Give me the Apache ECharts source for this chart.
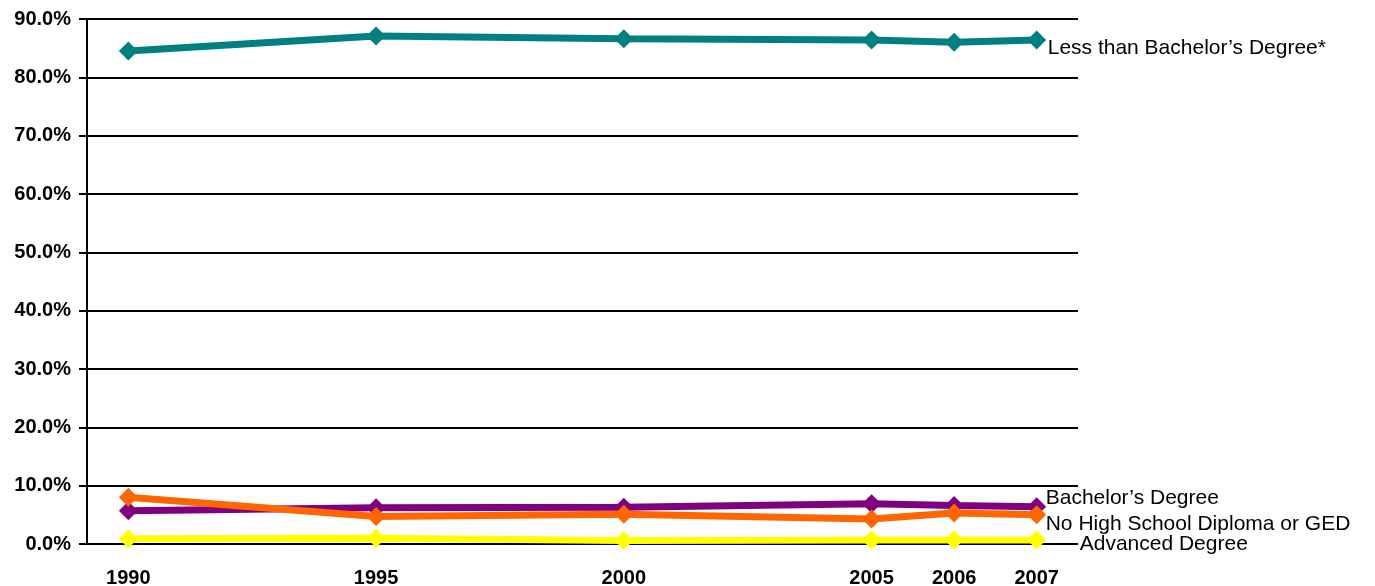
<!DOCTYPE html>
<html><head><meta charset="utf-8">
<script src="https://cdn.jsdelivr.net/npm/echarts@6/dist/echarts.min.js"></script>
<style>html,body{margin:0;padding:0;background:#fff}#c{width:1375px;height:586px}</style>
</head><body><div id="c"></div>
<script>
// Category slots (blank slots keep the original uneven year spacing)
const categories = ['1990','','','1995','','','2000','','','2005','2006','2007'];
const lessThanBachelor = [84.5,null,null,87.1,null,null,86.6,null,null,86.4,86.0,86.4];
const bachelor        = [5.7,null,null,6.2,null,null,6.3,null,null,6.9,6.6,6.4];
const noHighSchool    = [8.0,null,null,4.7,null,null,5.1,null,null,4.3,5.3,5.0];
const advanced        = [0.9,null,null,1.0,null,null,0.6,null,null,0.7,0.7,0.7];
const yTicks = [0,10,20,30,40,50,60,70,80,90];

const font = 'Arial, "Liberation Sans", sans-serif';
function mk(name, data, color, offset) {
  return {
    name, type: 'line', data, connectNulls: true,
    symbol: 'diamond', symbolSize: 19,
    lineStyle: {color, width: 7}, itemStyle: {color},
    emphasis: {disabled: true},
    endLabel: {show: true, formatter: name, color: '#000', fontSize: 21, fontFamily: font, offset, distance: 6}
  };
}
const chart = echarts.init(document.getElementById('c'));
chart.setOption({
  animation: false,
  grid: {left: 87, right: 297, top: 19, bottom: 42, outerBoundsMode: 'none', containLabel: false},
  xAxis: {
    type: 'category', data: categories, boundaryGap: true,
    axisLine: {show: false}, axisTick: {show: false},
    axisLabel: {color: '#000', fontWeight: 'bold', fontSize: 20, fontFamily: font, margin: 24, interval: 0}
  },
  yAxis: {
    type: 'value', min: yTicks[0], max: yTicks[yTicks.length-1], interval: 10,
    axisLine: {show: true, lineStyle: {color: '#000', width: 2}},
    axisTick: {show: true, length: 8, lineStyle: {color: '#000', width: 2}},
    splitLine: {lineStyle: {color: '#000', width: 2}},
    axisLabel: {color: '#000', fontWeight: 'bold', fontSize: 20, fontFamily: font, margin: 16,
      formatter: v => v.toFixed(1) + '%'}
  },
  series: [
    mk("Less than Bachelor’s Degree*", lessThanBachelor, '#008080', [5, 8]),
    mk("Bachelor’s Degree", bachelor, '#800080', [3, -8]),
    mk("No High School Diploma or GED", noHighSchool, '#FF6600', [3, 9]),
    mk("Advanced Degree", advanced, '#FFFF00', [37, 4])
  ]
});
</script></body></html>
